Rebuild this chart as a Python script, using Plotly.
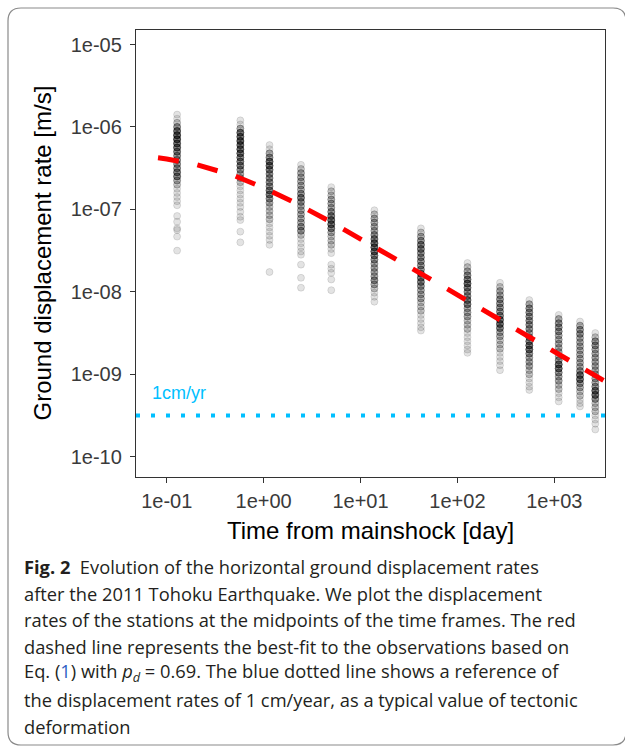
import math
import plotly.graph_objects as go

# ---------------- data ----------------
# midpoints of the time frames [day]
frame_days = [0.128, 0.575, 1.15, 2.43, 4.99, 13.9, 42.0, 127.0, 275.0, 552.0, 1110.0, 1841.0, 2647.0]

# per time frame: (log10 of displacement rate [m/s], number of stations at that level)
frame01 = [(-5.85, 1), (-5.90, 1), (-5.95, 2), (-6.00, 4), (-6.05, 6), (-6.10, 7), (-6.15, 7), (-6.20, 6),
           (-6.25, 6), (-6.30, 5), (-6.35, 4), (-6.40, 4), (-6.45, 4), (-6.50, 4), (-6.55, 5), (-6.60, 5),
           (-6.65, 3), (-6.70, 2), (-6.75, 1), (-6.80, 1), (-6.85, 1), (-6.90, 1), (-6.95, 1), (-7.08, 1),
           (-7.15, 1), (-7.23, 1), (-7.25, 1), (-7.33, 1), (-7.50, 1)]
frame02 = [(-5.92, 1), (-5.97, 1), (-6.02, 3), (-6.07, 6), (-6.12, 6), (-6.17, 7), (-6.22, 6), (-6.27, 6),
           (-6.32, 6), (-6.37, 5), (-6.42, 5), (-6.47, 5), (-6.52, 4), (-6.57, 3), (-6.62, 3), (-6.67, 2),
           (-6.72, 1), (-6.77, 1), (-6.82, 1), (-6.87, 1), (-6.92, 1), (-6.97, 1), (-7.03, 1), (-7.09, 1),
           (-7.13, 1), (-7.27, 1), (-7.40, 1)]
frame03 = [(-6.22, 1), (-6.27, 1), (-6.32, 3), (-6.37, 4), (-6.42, 6), (-6.47, 6), (-6.52, 5), (-6.57, 4),
           (-6.62, 4), (-6.67, 4), (-6.72, 4), (-6.77, 5), (-6.82, 5), (-6.87, 4), (-6.92, 3), (-6.97, 2),
           (-7.02, 2), (-7.07, 2), (-7.12, 2), (-7.17, 1), (-7.22, 1), (-7.27, 1), (-7.32, 1), (-7.37, 1),
           (-7.43, 1), (-7.76, 1)]
frame04 = [(-6.46, 1), (-6.51, 2), (-6.56, 3), (-6.61, 3), (-6.66, 3), (-6.71, 3), (-6.76, 3), (-6.81, 4),
           (-6.86, 5), (-6.91, 4), (-6.96, 3), (-7.01, 3), (-7.06, 3), (-7.11, 3), (-7.16, 3), (-7.21, 4),
           (-7.26, 4), (-7.31, 2), (-7.36, 1), (-7.41, 1), (-7.46, 1), (-7.51, 1), (-7.55, 1), (-7.67, 1),
           (-7.83, 1), (-7.95, 1)]
frame05 = [(-6.73, 1), (-6.78, 2), (-6.83, 2), (-6.88, 3), (-6.93, 3), (-6.98, 3), (-7.03, 4), (-7.08, 5),
           (-7.13, 6), (-7.18, 6), (-7.23, 5), (-7.28, 3), (-7.33, 2), (-7.38, 2), (-7.43, 2), (-7.48, 1),
           (-7.53, 1), (-7.67, 1), (-7.72, 1), (-7.77, 1), (-7.85, 1), (-7.98, 1)]
frame06 = [(-7.01, 1), (-7.06, 2), (-7.11, 3), (-7.16, 3), (-7.21, 3), (-7.26, 3), (-7.31, 4), (-7.36, 5),
           (-7.41, 6), (-7.46, 6), (-7.51, 6), (-7.56, 5), (-7.61, 4), (-7.66, 3), (-7.71, 3), (-7.76, 3),
           (-7.81, 3), (-7.86, 4), (-7.91, 3), (-7.96, 2), (-8.01, 1), (-8.06, 1), (-8.12, 1)]
frame07 = [(-7.23, 1), (-7.28, 2), (-7.33, 3), (-7.38, 4), (-7.43, 5), (-7.48, 5), (-7.53, 4), (-7.58, 4),
           (-7.63, 4), (-7.68, 4), (-7.73, 4), (-7.78, 5), (-7.83, 5), (-7.88, 5), (-7.93, 4), (-7.98, 3),
           (-8.03, 3), (-8.08, 3), (-8.13, 2), (-8.18, 2), (-8.23, 2), (-8.28, 1), (-8.33, 1), (-8.38, 1),
           (-8.43, 1), (-8.47, 1)]
frame08 = [(-7.65, 1), (-7.70, 2), (-7.75, 3), (-7.80, 4), (-7.85, 5), (-7.90, 6), (-7.95, 5), (-8.00, 4),
           (-8.05, 4), (-8.10, 5), (-8.15, 5), (-8.20, 3), (-8.25, 3), (-8.30, 3), (-8.35, 2), (-8.40, 2),
           (-8.45, 2), (-8.50, 1), (-8.55, 1), (-8.60, 1), (-8.65, 1), (-8.70, 1), (-8.74, 1)]
frame09 = [(-7.89, 1), (-7.94, 2), (-7.99, 3), (-8.04, 3), (-8.09, 4), (-8.14, 4), (-8.19, 4), (-8.24, 4),
           (-8.29, 5), (-8.34, 6), (-8.39, 6), (-8.44, 5), (-8.49, 3), (-8.54, 3), (-8.59, 2), (-8.64, 2),
           (-8.69, 2), (-8.74, 1), (-8.79, 1), (-8.84, 1), (-8.89, 1), (-8.95, 1)]
frame10 = [(-8.10, 1), (-8.15, 3), (-8.20, 4), (-8.25, 4), (-8.30, 4), (-8.35, 4), (-8.40, 4), (-8.45, 4),
           (-8.50, 3), (-8.55, 4), (-8.60, 5), (-8.65, 6), (-8.70, 6), (-8.75, 4), (-8.80, 3), (-8.85, 3),
           (-8.90, 3), (-8.95, 2), (-9.00, 2), (-9.05, 1), (-9.10, 1), (-9.15, 1), (-9.19, 1)]
frame11 = [(-8.28, 1), (-8.33, 3), (-8.38, 4), (-8.43, 4), (-8.48, 4), (-8.53, 3), (-8.58, 3), (-8.63, 3),
           (-8.68, 3), (-8.73, 3), (-8.78, 3), (-8.83, 4), (-8.88, 6), (-8.93, 6), (-8.98, 4), (-9.03, 3),
           (-9.08, 3), (-9.13, 2), (-9.18, 2), (-9.23, 1), (-9.28, 1), (-9.33, 1)]
frame12 = [(-8.36, 1), (-8.41, 3), (-8.46, 4), (-8.51, 4), (-8.56, 3), (-8.61, 3), (-8.66, 3), (-8.71, 3),
           (-8.76, 3), (-8.81, 3), (-8.86, 3), (-8.91, 3), (-8.96, 4), (-9.01, 6), (-9.06, 6), (-9.11, 4),
           (-9.16, 3), (-9.21, 2), (-9.26, 2), (-9.31, 1), (-9.35, 1), (-9.39, 1)]
frame13 = [(-8.50, 1), (-8.55, 2), (-8.60, 4), (-8.65, 4), (-8.70, 3), (-8.75, 3), (-8.80, 3), (-8.85, 3),
           (-8.90, 3), (-8.95, 3), (-9.00, 3), (-9.05, 3), (-9.10, 3), (-9.15, 4), (-9.20, 6), (-9.25, 6),
           (-9.30, 4), (-9.35, 2), (-9.40, 2), (-9.45, 2), (-9.50, 1), (-9.55, 1), (-9.60, 1), (-9.67, 1)]

frames = [frame01, frame02, frame03, frame04, frame05, frame06, frame07,
          frame08, frame09, frame10, frame11, frame12, frame13]

# best-fit curve (red dashed)
fit_days = [0.0813, 0.1, 0.2, 0.5, 1, 2, 5, 10, 20, 50, 100, 200, 500, 1000, 2000, 3400]
fit_rate = [4.22e-7, 4.09e-7, 3.52e-7, 2.56e-7, 1.83e-7, 1.24e-7, 6.98e-8, 4.42e-8,
            2.77e-8, 1.48e-8, 9.19e-9, 5.70e-9, 3.03e-9, 1.88e-9, 1.17e-9, 8.1e-10]

# 1 cm/yr reference rate [m/s]
ref_rate = 3.17e-10
ref_label = "1cm/yr"

# axis ranges (log10 units)
x_range_log = [-1.317, 3.523]
y_range_log = [-10.246, -4.824]

x_ticks = [0.1, 1, 10, 100, 1000]
x_ticktext = ["1e-01", "1e+00", "1e+01", "1e+02", "1e+03"]
y_ticks = [1e-5, 1e-6, 1e-7, 1e-8, 1e-9, 1e-10]
y_ticktext = ["1e-05", "1e-06", "1e-07", "1e-08", "1e-09", "1e-10"]

caption_lines = [
    "<b>Fig. 2</b>  Evolution of the horizontal ground displacement rates",
    "after the 2011 Tohoku Earthquake. We plot the displacement",
    "rates of the stations at the midpoints of the time frames. The red",
    "dashed line represents the best-fit to the observations based on",
    "Eq. (<span style='color:#2f5fc4'>1</span>) with <i>p</i><sub><i>d</i></sub> = 0.69. "
    "The blue dotted line shows a reference of",
    "the displacement rates of 1 cm/year, as a typical value of tectonic",
    "deformation",
]

# ---------------- figure ----------------
xs, ys = [], []
for t, col in zip(frame_days, frames):
    for lv, n in col:
        xs += [t] * n
        ys += [10 ** lv] * n

fig = go.Figure()
fig.add_trace(go.Scatter(
    x=xs, y=ys, mode="markers",
    marker=dict(size=7, color="rgba(0,0,0,0.11)",
                line=dict(width=1, color="rgba(0,0,0,0.11)")),
    hoverinfo="skip", showlegend=False,
))
fig.add_trace(go.Scatter(
    x=fit_days, y=fit_rate, mode="lines",
    line=dict(color="#ff0000", width=5, dash="21px,19px"),
    hoverinfo="skip", showlegend=False,
))
fig.add_trace(go.Scatter(
    x=[10 ** x_range_log[0], 10 ** x_range_log[1]], y=[ref_rate, ref_rate], mode="lines",
    line=dict(color="#00bfff", width=4, dash="4px,11px"),
    hoverinfo="skip", showlegend=False,
))

# plot area in pixels: x 136..605, y 30..477
L, R, T, B = 136, 605, 30, 477
W, H = R - L, B - T


def px(x):
    return (x - L) / W


def py(y):
    return (B - y) / H


annotations = [
    dict(text=ref_label, xref="paper", yref="y", x=px(150), y=math.log10(ref_rate),
         xanchor="left", yanchor="bottom", yshift=10, showarrow=False,
         font=dict(family="Liberation Sans, Arial", size=18, color="#00bfff")),
    dict(text="Time from mainshock [day]", xref="paper", yref="paper", x=0.5, y=py(530),
         xanchor="center", yanchor="middle", showarrow=False,
         font=dict(family="Liberation Sans, Arial", size=24, color="#000000")),
    dict(text="Ground displacement rate [m/s]", xref="paper", yref="paper", x=px(42), y=0.5,
         xanchor="center", yanchor="middle", textangle=-90, showarrow=False,
         font=dict(family="Liberation Sans, Arial", size=24, color="#000000")),
]
caption_y = [566, 593, 619, 646, 672, 699, 726]
for line, yy in zip(caption_lines, caption_y):
    annotations.append(dict(
        text=line, xref="paper", yref="paper", x=px(22), y=py(yy),
        xanchor="left", yanchor="middle", showarrow=False, align="left",
        font=dict(family="Open Sans", size=18.3, color="#231f20")))

# outer rounded frame of the figure panel
fx0, fy0, fx1, fy1, r = 8, 8, 626, 745, 13
frame_path = (
    f"M {px(fx0)},{py(fy1 - r)} L {px(fx0)},{py(fy0 + r)} "
    f"Q {px(fx0)},{py(fy0)} {px(fx0 + r)},{py(fy0)} "
    f"L {px(fx1 - r)},{py(fy0)} Q {px(fx1)},{py(fy0)} {px(fx1)},{py(fy0 + r)} "
    f"L {px(fx1)},{py(fy1 - r)} Q {px(fx1)},{py(fy1)} {px(fx1 - r)},{py(fy1)} "
    f"L {px(fx0 + r)},{py(fy1)} Q {px(fx0)},{py(fy1)} {px(fx0)},{py(fy1 - r)} Z"
)
fig.add_shape(type="path", xref="paper", yref="paper", path=frame_path,
              line=dict(color="#8a8a8a", width=1.2), layer="below")

axis_common = dict(
    showline=True, mirror=True, linecolor="#333333", linewidth=1.3,
    ticks="outside", ticklen=5, tickwidth=1.3, tickcolor="#333333",
    showgrid=False, zeroline=False,
    tickfont=dict(family="Liberation Sans, Arial", size=20, color="#3a3a3a"),
)

fig.update_layout(
    width=625, height=747,
    margin=dict(l=L, r=625 - R, t=T, b=747 - B),
    paper_bgcolor="white", plot_bgcolor="white",
    xaxis=dict(type="log", range=x_range_log, tickvals=x_ticks, ticktext=x_ticktext,
               ticklabelstandoff=1, **axis_common),
    yaxis=dict(type="log", range=y_range_log, tickvals=y_ticks, ticktext=y_ticktext,
               ticklabelstandoff=4, **axis_common),
    annotations=annotations,
    showlegend=False,
)

fig.write_html("out.html")
